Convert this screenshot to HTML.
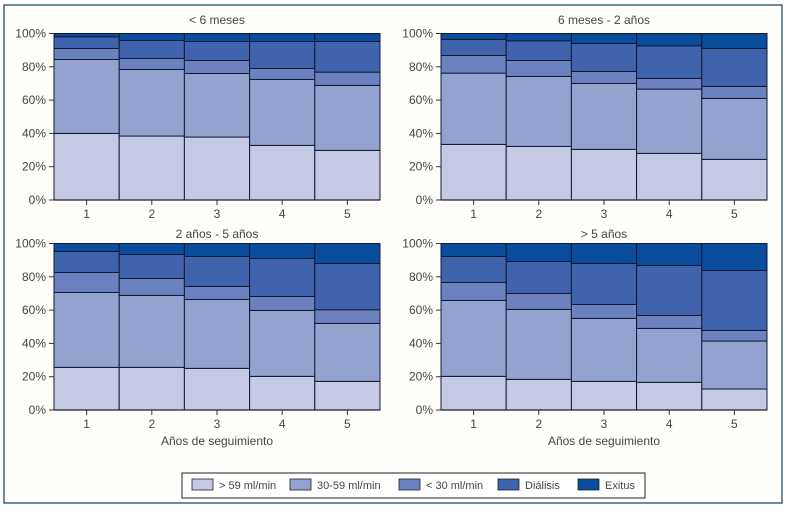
<!DOCTYPE html>
<html><head><meta charset="utf-8">
<style>
html,body{margin:0;padding:0;background:#fff;}
body{width:788px;height:515px;overflow:hidden;font-family:"Liberation Sans",sans-serif;}
svg text{font-family:"Liberation Sans",sans-serif;fill:#444;}
</style></head>
<body>
<svg id="chart" width="788" height="515" xmlns="http://www.w3.org/2000/svg">
<rect x="4" y="5" width="778" height="498" fill="#fffefb" stroke="#1f4f6e" stroke-width="1.3"/>
<g id="panels"></g>
<g id="legend"></g>
</svg>
<script>
const categories = ["1","2","3","4","5"];
const seriesNames = ["> 59 ml/min","30-59 ml/min","< 30 ml/min","Diálisis","Exitus"];
const yTicks = [0,20,40,60,80,100];
const panelTitles = ["< 6 meses","6 meses - 2 años","2 años - 5 años","> 5 años"];
const p1_s1=[40,38.4,37.8,32.8,29.8], p1_s2=[44.4,40,38.2,39.6,39], p1_s3=[6.6,6.6,7.8,6.6,8], p1_s4=[7,10.8,11.4,16.2,18.4], p1_s5=[2,4.2,4.8,4.8,4.8];
const p2_s1=[33.4,32.2,30.4,28,24.4], p2_s2=[42.8,42,39.6,38.6,36.6], p2_s3=[10.6,9.6,7.2,6.4,7.2], p2_s4=[9.6,11.8,16.8,19.6,22.8], p2_s5=[3.6,4.4,6,7.4,9];
const p3_s1=[25.6,25.6,25,20.2,17.2], p3_s2=[45,43.2,41.4,39.6,34.8], p3_s3=[12,10.2,7.8,8.4,8.2], p3_s4=[12.6,14.4,18,22.8,27.8], p3_s5=[4.8,6.6,7.8,9,12];
const p4_s1=[20.2,18.4,17.2,16.6,12.6], p4_s2=[45.6,42,37.8,32.4,28.8], p4_s3=[10.8,9.6,8.4,7.8,6.4], p4_s4=[15.6,19.2,24.6,30,36], p4_s5=[7.8,10.8,12,13.2,16.2];
const panelData=[[p1_s1,p1_s2,p1_s3,p1_s4,p1_s5],[p2_s1,p2_s2,p2_s3,p2_s4,p2_s5],[p3_s1,p3_s2,p3_s3,p3_s4,p3_s5],[p4_s1,p4_s2,p4_s3,p4_s4,p4_s5]];
const colors=["#c5c9e4","#94a2cf","#6c81c0","#3f64ad","#0a4d9c"];
const NS="http://www.w3.org/2000/svg";
function mk(tag,attrs,parent){const e=document.createElementNS(NS,tag);for(const k in attrs)e.setAttribute(k,attrs[k]);parent.appendChild(e);return e;}
const layout=[{x0:54,x1:380,y0:33.5,y1:200,ty:24},{x0:441,x1:767,y0:33.5,y1:200,ty:24},{x0:54,x1:380,y0:243.5,y1:410,ty:238},{x0:441,x1:767,y0:243.5,y1:410,ty:238}];
const root=document.getElementById('panels');
layout.forEach((L,pi)=>{
  const g=mk('g',{},root);
  
  
  const yS=v=>L.y1-(v/100)*(L.y1-L.y0);
  const bw=(L.x1-L.x0)/categories.length;
  const xS=i=>L.x0+i*bw;
  const t=mk('text',{x:(L.x0+L.x1)/2,y:L.ty,'text-anchor':'middle','font-size':'12'},g);
  t.textContent=panelTitles[pi];
  
  
  const data=panelData[pi];
  categories.forEach((c,i)=>{
    let cum=0;
    data.forEach((s,si)=>{
      const v=s[i];
      const top=si===data.length-1?100:cum+v;
      const r=mk('rect',{x:xS(i),y:yS(top),width:bw,height:yS(cum)-yS(top),fill:colors[si],stroke:'#111a33','stroke-width':'1'},g);
      
      
      cum=top;
    });
    const tk=mk('line',{x1:xS(i)+bw/2,x2:xS(i)+bw/2,y1:L.y1,y2:L.y1+5,stroke:'#333'},g);
    
    
    const lb=mk('text',{x:xS(i)+bw/2,y:L.y1+18,'text-anchor':'middle','font-size':'12'},g);
    lb.textContent=c;
    
    
  });
  const ax=mk('line',{x1:L.x0,x2:L.x1,y1:L.y1,y2:L.y1,stroke:'#222','stroke-width':'1.2'},g);
  
  
  yTicks.forEach(v=>{
    const tk=mk('line',{x1:L.x0-5,x2:L.x0,y1:yS(v),y2:yS(v),stroke:'#333'},g);
    
    
    const lb=mk('text',{x:L.x0-8,y:yS(v)+4,'text-anchor':'end','font-size':'12'},g);
    lb.textContent=v+'%';
    
    
  });
  if(pi>=2){
    const xt=mk('text',{x:(L.x0+L.x1)/2,y:445,'text-anchor':'middle','font-size':'12'},g);
    xt.textContent='Años de seguimiento';
    
    
  }
});
const lg=document.getElementById('legend');
const lbox=mk('rect',{x:182,y:473,width:463,height:25,fill:'#fff',stroke:'#222','stroke-width':'1'},lg);


const swX=[192,290,399,498,578];
seriesNames.forEach((n,i)=>{
  const e=mk('g',{},lg);
  
  
  mk('rect',{x:swX[i],y:479,width:21,height:11,fill:colors[i],stroke:'#222','stroke-width':'0.8'},e);
  const tx=mk('text',{x:swX[i]+27,y:489,'font-size':'11'},e);
  tx.textContent=n;
});
</script>
</body></html>
